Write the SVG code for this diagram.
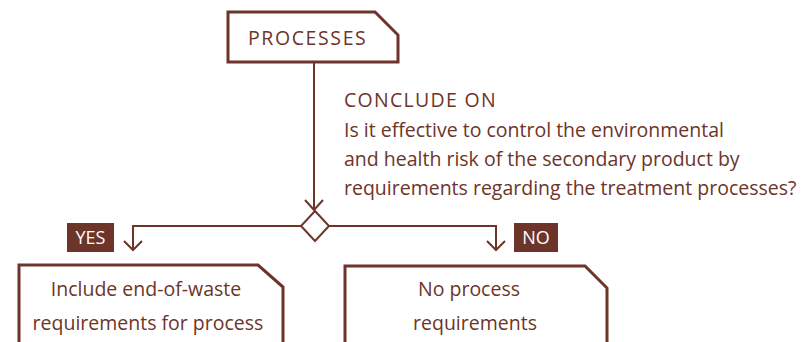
<svg xmlns="http://www.w3.org/2000/svg" width="802" height="342" viewBox="0 0 802 342">
<defs>
<style>
.box{fill:#fff;stroke:#6d3429;stroke-width:3}
.ln{fill:none;stroke:#6d3429;stroke-width:2}
.t{font-family:"Open Sans","Noto Sans",sans-serif;fill:#6d3429;font-size:19.5px}
.tag{fill:#6d3429}
.tw{font-family:"Open Sans","Noto Sans",sans-serif;fill:#fff;font-size:18px}
</style>
</defs>
<rect width="802" height="342" fill="#fff"/>
<g id="connectors">
<path class="ln" d="M314 63 V210"/>
<path class="ln" d="M305 200 L314 210 L323 200"/>
<path class="ln" d="M301 226 H133 V250"/>
<path class="ln" d="M124 241 L133 250 L142 241"/>
<path class="ln" d="M329 226 H496 V250"/>
<path class="ln" d="M487 241 L496 250 L505 241"/>
</g>
<g id="processes">
<path class="box" d="M228 12 H375 L398 35 V62 H228 Z"/>
<text class="t" x="248" y="45" font-size="21" letter-spacing="1.6">PROCESSES</text>
</g>
<g id="decision">
<path class="box" style="stroke-width:2" d="M315 211 L329 226 L315 241 L301 226 Z"/>
</g>
<g id="question">
<text class="t" x="344" y="107" letter-spacing="1.3">CONCLUDE ON</text>
<text class="t" x="344" y="137">Is it effective to control the environmental</text>
<text class="t" x="344" y="166">and health risk of the secondary product by</text>
<text class="t" x="344" y="195">requirements regarding the treatment processes?</text>
</g>
<g id="yes-label">
<rect class="tag" x="67" y="223" width="47" height="29"/>
<text class="tw" x="90.5" y="244" text-anchor="middle">YES</text>
</g>
<g id="no-label">
<rect class="tag" x="514" y="223" width="44" height="29"/>
<text class="tw" x="536" y="244" text-anchor="middle">NO</text>
</g>
<g id="yes-box">
<path class="box" d="M19 265 H258 L283 287 V345 H19 Z"/>
<text class="t" x="146" y="296" text-anchor="middle">Include end-of-waste</text>
<text class="t" x="148" y="330" text-anchor="middle">requirements for process</text>
</g>
<g id="no-box">
<path class="box" d="M345 266 H585 L607 288 V345 H345 Z"/>
<text class="t" x="469" y="296" text-anchor="middle">No process</text>
<text class="t" x="475" y="330" text-anchor="middle">requirements</text>
</g>
</svg>
